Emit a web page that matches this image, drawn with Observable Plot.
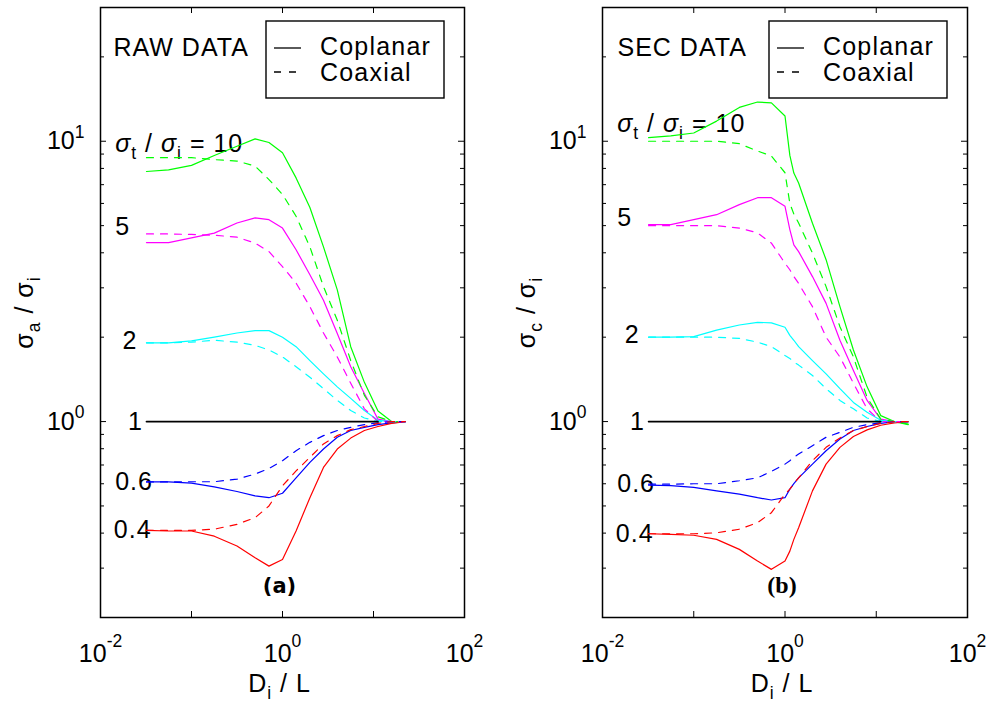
<!DOCTYPE html>
<html><head><meta charset="utf-8">
<script src="https://cdn.jsdelivr.net/npm/d3@7"></script>
<script src="https://cdn.jsdelivr.net/npm/@observablehq/plot@0.6"></script>
<style>
body{margin:0;background:#fff;}
#wrap{position:relative;width:988px;height:703px;background:#fff;}
.panel{position:absolute;top:0;}
</style></head><body><div id="wrap"></div>
<script>
// ---------- data ----------
const ratios = [10, 5, 2, 1, 0.6, 0.4];
const colors = ["#00ff00", "#ff00ff", "#00ffff", "#000000", "#0000ff", "#ff0000"];
const xTickValues = [0.01, 1, 100];
const xInnerTicks = [0.1, 1, 10];
const yTickValues = [1, 10];
const yMinorTicks = [0.3, 0.4, 0.5, 0.6, 0.7, 0.8, 0.9, 2, 3, 4, 5, 6, 7, 8, 9, 20];

// (a) RAW DATA
const xRaw = [0.032, 0.056, 0.1, 0.178, 0.316, 0.5, 0.71, 1.0, 1.41, 2.0, 2.82, 4.0, 5.62, 7.94, 11.2, 15.8, 22.4];
const rawCop10  = [7.8, 7.9, 8.2, 8.9, 9.6, 10.2, 9.9, 9.1, 7.4, 5.8, 4.2, 2.95, 1.85, 1.38, 1.09, 1.0, 1.0];
const rawCoax10 = [8.74, 8.74, 8.74, 8.6, 8.5, 8.15, 7.3, 6.46, 5.4, 4.2, 3.03, 2.3, 1.65, 1.24, 1.04, 1.0, 1.0];
const rawCop5   = [4.35, 4.35, 4.52, 4.7, 5.11, 5.33, 5.25, 4.9, 4.1, 3.34, 2.71, 2.06, 1.57, 1.26, 1.02, 1.0, 1.0];
const rawCoax5  = [4.67, 4.67, 4.65, 4.62, 4.55, 4.33, 4.04, 3.57, 3.12, 2.57, 2.07, 1.7, 1.37, 1.11, 1.0, 1.0, 1.0];
const rawCop2   = [1.91, 1.91, 1.94, 2.0, 2.07, 2.11, 2.11, 2.0, 1.85, 1.65, 1.48, 1.33, 1.21, 1.095, 1.01, 1.0, 1.0];
const rawCoax2  = [1.91, 1.91, 1.92, 1.95, 1.92, 1.87, 1.8, 1.7, 1.57, 1.44, 1.31, 1.19, 1.095, 1.03, 1.0, 1.0, 1.0];
const rawCop1   = [1, 1, 1, 1, 1, 1, 1, 1, 1, 1, 1, 1, 1, 1, 1, null, null];
const rawCoax1  = [1, 1, 1, 1, 1, 1, 1, 1, 1, 1, 1, 1, 1, 1, 1, null, null];
const rawCop06  = [0.609, 0.609, 0.603, 0.585, 0.563, 0.543, 0.535, 0.555, 0.63, 0.715, 0.798, 0.879, 0.929, 0.954, 0.975, 0.99, 1.0];
const rawCoax06 = [0.609, 0.609, 0.61, 0.61, 0.623, 0.65, 0.68, 0.725, 0.787, 0.843, 0.891, 0.929, 0.954, 0.975, 0.99, 1.0, 1.0];
const rawCop04  = [0.409, 0.407, 0.407, 0.39, 0.36, 0.327, 0.305, 0.322, 0.407, 0.535, 0.686, 0.798, 0.873, 0.929, 0.96, 0.985, 1.0];
const rawCoax04 = [0.409, 0.409, 0.409, 0.413, 0.43, 0.454, 0.5, 0.59, 0.667, 0.745, 0.832, 0.891, 0.936, 0.96, 0.985, 1.0, 1.0];

// (b) SEC DATA
const xSec = [0.032, 0.056, 0.1, 0.178, 0.316, 0.5, 0.71, 1.0, 1.13, 1.25, 1.41, 2.0, 2.82, 4.0, 5.62, 7.94, 11.2, 15.8, 22.4];
const secCop10  = [10.3, 10.45, 10.7, 11.8, 13.2, 13.8, 13.7, 12.3, 8.9, 7.7, 7.1, 5.1, 3.78, 2.57, 1.8, 1.33, 1.05, 1.0, 0.975];
const secCoax10 = [10.0, 10.0, 10.0, 10.0, 9.8, 9.23, 8.86, 7.72, 6.0, 5.5, 5.11, 3.99, 3.03, 2.18, 1.7, 1.22, 1.02, 1.0, 0.98];
const secCop5   = [5.04, 5.04, 5.25, 5.47, 5.94, 6.29, 6.29, 5.86, 4.84, 4.27, 4.04, 3.29, 2.64, 1.95, 1.52, 1.19, 1.02, 1.0, 1.0];
const secCoax5  = [5.0, 5.0, 5.0, 5.0, 4.9, 4.71, 4.33, 3.67, 3.48, 3.29, 3.11, 2.57, 2.0, 1.7, 1.37, 1.11, 1.0, 1.0, 1.0];
const secCop2   = [2.0, 2.0, 2.01, 2.12, 2.21, 2.26, 2.25, 2.17, 2.03, 1.95, 1.85, 1.65, 1.48, 1.31, 1.17, 1.08, 1.01, 1.0, 1.0];
const secCoax2  = [2.0, 2.0, 2.0, 2.0, 1.98, 1.92, 1.85, 1.72, 1.68, 1.63, 1.59, 1.46, 1.31, 1.19, 1.11, 1.03, 1.0, 1.0, 1.0];
const secCop1   = [1, 1, 1, 1, 1, 1, 1, 1, 1, 1, 1, 1, 1, 1, 1, 1, 1, null, null];
const secCoax1  = [1, 1, 1, 1, 1, 1, 1, 1, 1, 1, 1, 1, 1, 1, 1, 1, 1, null, null];
const secCop06  = [0.593, 0.591, 0.582, 0.566, 0.551, 0.535, 0.525, 0.535, 0.574, 0.601, 0.63, 0.705, 0.787, 0.867, 0.929, 0.96, 0.985, 1.0, 1.0];
const secCoax06 = [0.598, 0.598, 0.6, 0.6, 0.615, 0.63, 0.664, 0.705, 0.725, 0.745, 0.766, 0.82, 0.879, 0.915, 0.954, 0.975, 0.99, 1.0, 1.0];
const secCop04  = [0.398, 0.396, 0.393, 0.38, 0.35, 0.318, 0.297, 0.318, 0.345, 0.38, 0.418, 0.566, 0.705, 0.809, 0.884, 0.934, 0.97, 0.99, 1.0];
const secCoax04 = [0.398, 0.398, 0.398, 0.401, 0.413, 0.436, 0.473, 0.551, 0.574, 0.6, 0.63, 0.725, 0.809, 0.874, 0.929, 0.96, 0.985, 1.0, 1.0];

// ---------- helpers ----------
const FONT = "Liberation Sans, Arial, Helvetica, sans-serif";
const BOLDSANS = "DejaVu Sans, Liberation Sans, sans-serif";
const SERIF = "Liberation Serif, Times New Roman, serif";
const SVGNS = "http://www.w3.org/2000/svg";
const pow10 = d => `10^{${Math.round(Math.log10(d))}}`;

function richify(el, supShift, subShift) {
  const s = el.textContent;
  if (!/[_^%]\{/.test(s)) return;
  el.textContent = "";
  const re = /([_^%])\{([^}]*)\}/g;
  let last = 0, m, shift = 0;
  const add = (txt, kind) => {
    if (!txt) return;
    const t = document.createElementNS(SVGNS, "tspan");
    const small = kind === "_" || kind === "^";
    const target = kind === "_" ? subShift : kind === "^" ? -supShift : 0;
    const delta = target - shift;
    if (small) t.setAttribute("font-size", "70%");
    if (delta) t.setAttribute("dy", (small ? delta / 0.7 : delta).toFixed(3) + "em");
    if (kind === "%") t.setAttribute("font-style", "italic");
    shift = target;
    t.textContent = txt;
    el.appendChild(t);
  };
  while ((m = re.exec(s))) { add(s.slice(last, m.index), ""); add(m[2], m[1]); last = re.lastIndex; }
  add(s.slice(last), "");
}

function makePanel(cfg) {
  const W = 494, H = 703, mt = 7, mb = 86;
  const fw = W - cfg.ml - cfg.mr, fh = H - mt - mb;
  const rows = [];
  ratios.forEach((r, k) => {
    [["cop", cfg.cop[k]], ["coax", cfg.coax[k]]].forEach(([t, arr]) => {
      cfg.xs.forEach((x, i) => rows.push({x, y: arr[i], ratio: r, type: t, key: r + t}));
    });
  });
  const starts = ratios.map((r, k) => ({ratio: r, y: Math.max(cfg.cop[k][0], cfg.coax[k][0])}));
  const labelX = r => r === 1 ? 0.02 : r === 2 ? 0.0175 : r === 0.4 ? 0.014 : 0.0145;
  const labelDy = r => r === 10 ? -6 : r === 5 ? -7 : r === 2 ? -2 : 0;
  const labelText = r => r === 10 ? "%{σ}_{t} / %{σ}_{i} = 10" : String(r);

  const labelMarks = starts.map(s => Plot.text([s], {
    x: () => labelX(s.ratio), y: "y", text: () => labelText(s.ratio),
    textAnchor: "start", lineAnchor: s.ratio === 10 ? "bottom" : "middle",
    dy: labelDy(s.ratio), fill: "black", fontSize: 25
  }));

  const p = Plot.plot({
    width: W, height: H,
    marginLeft: cfg.ml, marginRight: cfg.mr, marginTop: mt, marginBottom: mb,
    style: {fontFamily: FONT, fontSize: "25px", background: "white", color: "black", overflow: "visible"},
    x: {type: "log", domain: [0.01, 100], ticks: xTickValues, tickFormat: pow10, tickSize: 0, tickPadding: 27, label: null},
    y: {type: "log", domain: [0.2, 30], ticks: yTickValues, tickFormat: pow10, tickSize: 0, tickPadding: 16, label: null},
    color: {type: "ordinal", domain: ratios, range: colors},
    marks: [
      // inward ticks, all four sides
      Plot.tickY(yMinorTicks, {y: d => d, insetRight: fw - 4, stroke: "black"}),
      Plot.tickY(yMinorTicks, {y: d => d, insetLeft: fw - 4, stroke: "black"}),
      Plot.tickY(yTickValues, {y: d => d, insetRight: fw - 6, stroke: "black"}),
      Plot.tickY(yTickValues, {y: d => d, insetLeft: fw - 6, stroke: "black"}),
      Plot.tickX(xInnerTicks, {x: d => d, insetBottom: fh - 6, stroke: "black"}),
      Plot.tickX(xInnerTicks, {x: d => d, insetTop: fh - 6, stroke: "black"}),
      ...labelMarks,
      Plot.line(rows.filter(d => d.type === "cop" && d.ratio !== 1), {x: "x", y: "y", z: "key", stroke: "ratio", strokeWidth: 1.2}),
      Plot.line(rows.filter(d => d.type === "coax" && d.ratio !== 1), {x: "x", y: "y", z: "key", stroke: "ratio", strokeWidth: 1.2, strokeDasharray: "7,7"}),
      Plot.line(rows.filter(d => d.type === "cop" && d.ratio === 1), {x: "x", y: "y", z: "key", stroke: "ratio", strokeWidth: 1.7}),
      Plot.frame({stroke: "black", strokeWidth: 1.5}),
      Plot.text([cfg.title], {text: d => d, frameAnchor: "top-left", dx: cfg.titleDx, dy: 48, lineAnchor: "bottom", textAnchor: "start", fill: "black"}),
      Plot.text([cfg.tag], {text: d => d, frameAnchor: "bottom", dx: -3, dy: -25, lineAnchor: "bottom", textAnchor: "middle", fontWeight: "bold", fontSize: cfg.tagSize, fontFamily: cfg.tagFont, fill: "black"}),
      Plot.text([cfg.ylab], {text: d => d, frameAnchor: "left", dx: -68, rotate: -90, lineAnchor: "bottom", textAnchor: "middle", fill: "black"}),
      Plot.text(["D_{i} / L"], {text: d => d, frameAnchor: "bottom", dx: -3, dy: 74, lineAnchor: "bottom", textAnchor: "middle", fill: "black"})
    ]
  });

  // rich text (sub/superscripts)
  p.querySelectorAll("text").forEach(el => {
    const isX = !!el.closest('[aria-label^="x-axis"]');
    const isY = !!el.closest('[aria-label^="y-axis"]');
    if (!isX && !isY && !/^\(/.test(el.textContent)) el.setAttribute("letter-spacing", "1");
    richify(el, isX ? 0.62 : 0.45, 0.3);
  });

  // legend box (top-right of frame)
  const svg = d3.select(p.tagName.toLowerCase() === "svg" ? p : p.querySelector("svg"));
  const fx1 = W - cfg.mr, fy0 = mt;
  const g = svg.append("g").attr("transform", `translate(${fx1 - 198},${fy0 + 14})`)
    .attr("font-family", FONT).attr("font-size", 25).attr("letter-spacing", 1.2)
    .attr("text-anchor", "start");
  g.append("rect").attr("x", 0).attr("y", 0).attr("width", 178).attr("height", 77)
    .attr("fill", "white").attr("stroke", "black").attr("stroke-width", 1.4);
  g.append("line").attr("x1", 8).attr("x2", 35).attr("y1", 27).attr("y2", 27).attr("stroke", "black").attr("stroke-width", 1.3);
  g.append("line").attr("x1", 8).attr("x2", 35).attr("y1", 51).attr("y2", 51).attr("stroke", "black").attr("stroke-width", 1.3).attr("stroke-dasharray", "7,8");
  g.append("text").attr("x", 54).attr("y", 34).attr("fill", "black").attr("text-anchor", "start").text("Coplanar");
  g.append("text").attr("x", 54).attr("y", 60).attr("fill", "black").attr("text-anchor", "start").text("Coaxial");

  const div = document.createElement("div");
  div.className = "panel";
  div.style.left = cfg.left + "px";
  div.appendChild(p);
  document.getElementById("wrap").appendChild(div);
}

makePanel({
  xs: xRaw,
  cop: [rawCop10, rawCop5, rawCop2, rawCop1, rawCop06, rawCop04],
  coax: [rawCoax10, rawCoax5, rawCoax2, rawCoax1, rawCoax06, rawCoax04],
  title: "RAW DATA", titleDx: 13, tag: "(a)", tagFont: BOLDSANS, tagSize: 21,
  ylab: "σ_{a} / σ_{i}", ml: 100, mr: 30, left: 0
});
makePanel({
  xs: xSec,
  cop: [secCop10, secCop5, secCop2, secCop1, secCop06, secCop04],
  coax: [secCoax10, secCoax5, secCoax2, secCoax1, secCoax06, secCoax04],
  title: "SEC DATA", titleDx: 15, tag: "(b)", tagFont: SERIF, tagSize: 24,
  ylab: "σ_{c} / σ_{i}", ml: 108, mr: 21, left: 494
});
</script></body></html>
